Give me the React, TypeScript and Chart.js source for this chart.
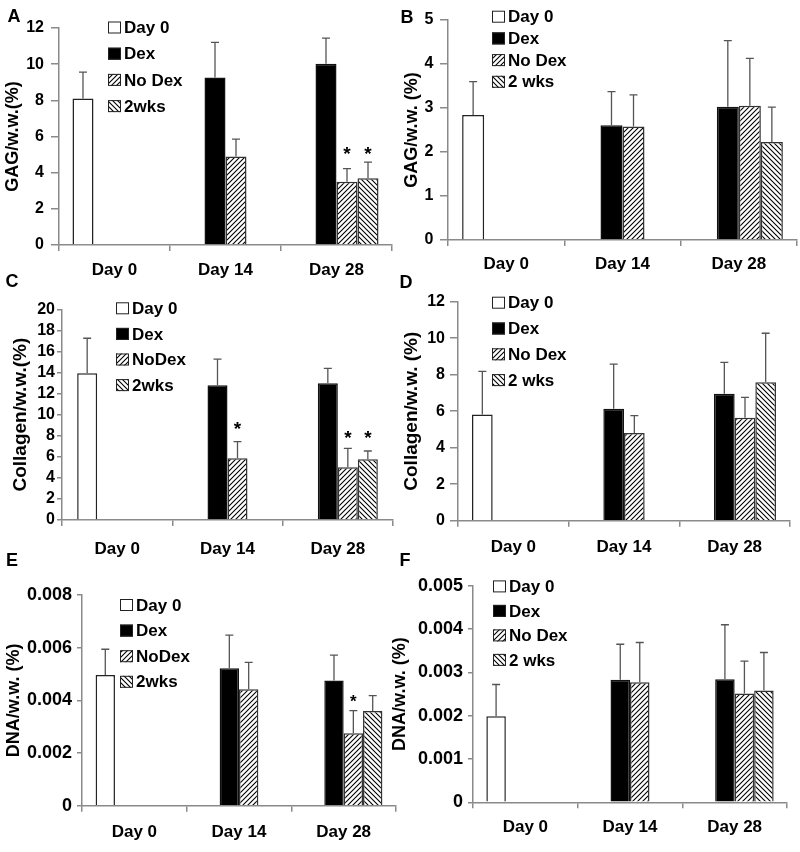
import React, { useEffect, useRef } from 'react';
import { Chart, registerables } from 'chart.js';

Chart.register(...registerables);

const FAMILY = '"Liberation Sans", Arial, Helvetica, sans-serif';
const AXIS_GRAY = '#8a8a8a';

const categories = ['Day 0', 'Day 14', 'Day 28'];

// ---------- Panel A: GAG (Dex) ----------
const aLegend = ['Day 0', 'Dex', 'No Dex', '2wks'];
const aDay0 = [8.1, null, null];
const aDex = [null, 9.26, 10.02];
const aNoDex = [null, 4.89, 3.5];
const a2wks = [null, null, 3.69];
const aDay0Err = [1.46, null, null];
const aDexErr = [null, 1.94, 1.42];
const aNoDexErr = [null, 0.96, 0.72];
const a2wksErr = [null, null, 0.89];
const aTicks = [0, 2, 4, 6, 8, 10, 12];
const aStars = [[2, 2, 5.3], [3, 2, 5.3]];

// ---------- Panel B: GAG ----------
const bLegend = ['Day 0', 'Dex', 'No Dex', '2 wks'];
const bDay0 = [2.84, null, null];
const bDex = [null, 2.61, 3.03];
const bNoDex = [null, 2.58, 3.05];
const b2wks = [null, null, 2.23];
const bDay0Err = [0.76, null, null];
const bDexErr = [null, 0.76, 1.5];
const bNoDexErr = [null, 0.72, 1.08];
const b2wksErr = [null, null, 0.79];
const bTicks = [0, 1, 2, 3, 4, 5];
const bStars: number[][] = [];

// ---------- Panel C: Collagen (Dex) ----------
const cLegend = ['Day 0', 'Dex', 'NoDex', '2wks'];
const cDay0 = [13.92, null, null];
const cDex = [null, 12.8, 12.97];
const cNoDex = [null, 5.85, 5.0];
const c2wks = [null, null, 5.76];
const cDay0Err = [3.33, null, null];
const cDexErr = [null, 2.48, 1.43];
const cNoDexErr = [null, 1.59, 1.8];
const c2wksErr = [null, null, 0.79];
const cTicks = [0, 2, 4, 6, 8, 10, 12, 14, 16, 18, 20];
const cStars = [[2, 1, 9.1], [2, 2, 8.2], [3, 2, 8.2]];

// ---------- Panel D: Collagen ----------
const dLegend = ['Day 0', 'Dex', 'No Dex', '2 wks'];
const dDay0 = [5.82, null, null];
const dDex = [null, 6.13, 6.95];
const dNoDex = [null, 4.8, 5.64];
const d2wks = [null, null, 7.58];
const dDay0Err = [2.36, null, null];
const dDexErr = [null, 2.45, 1.72];
const dNoDexErr = [null, 0.96, 1.12];
const d2wksErr = [null, null, 2.69];
const dTicks = [0, 2, 4, 6, 8, 10, 12];
const dStars: number[][] = [];

// ---------- Panel E: DNA (Dex) ----------
const eLegend = ['Day 0', 'Dex', 'NoDex', '2wks'];
const eDay0 = [0.00496, null, null];
const eDex = [null, 0.00522, 0.00475];
const eNoDex = [null, 0.00442, 0.00275];
const e2wks = [null, null, 0.0036];
const eDay0Err = [0.00098, null, null];
const eDexErr = [null, 0.00126, 0.00097];
const eNoDexErr = [null, 0.00102, 0.00086];
const e2wksErr = [null, null, 0.00058];
const eTicks = [0, 0.002, 0.004, 0.006, 0.008];
const eStars = [[2, 2, 0.00411]];

// ---------- Panel F: DNA ----------
const fLegend = ['Day 0', 'Dex', 'No Dex', '2 wks'];
const fDay0 = [0.00199, null, null];
const fDex = [null, 0.00283, 0.00284];
const fNoDex = [null, 0.00277, 0.00251];
const f2wks = [null, null, 0.00258];
const fDay0Err = [0.00073, null, null];
const fDexErr = [null, 0.00082, 0.00126];
const fNoDexErr = [null, 0.00092, 0.00075];
const f2wksErr = [null, null, 0.00088];
const fTicks = [0, 0.001, 0.002, 0.003, 0.004, 0.005];
const fStars: number[][] = [];

type Panel = {
  letter: string; lx: number; ly: number;
  cx: number; cy: number; cw: number; ch: number;
  L: number; T: number; R: number; B: number;
  ytitle: string; titleFont: number; ticks: number[]; decimals: number; tickFont: number;
  ytl: number; ypad: number; xpad: number; catPct: number;
  legend: string[]; series: (number | null)[][]; errors: (number | null)[][];
  stars: number[][]; starFont: number;
  lg: { dx: number; dy: number; gap: number };
};

const panels: Panel[] = [
  {
    letter: 'A', lx: 14, ly: 16, cx: 2, cy: 0, cw: 398, ch: 286, L: 59, T: 28, R: 392, B: 245,
    ytitle: 'GAG/w.w.(%)', titleFont: 18, ticks: aTicks, decimals: 0, tickFont: 16, ytl: 8, ypad: 7, xpad: 8.8, catPct: 0.757,
    legend: aLegend, series: [aDay0, aDex, aNoDex, a2wks], errors: [aDay0Err, aDexErr, aNoDexErr, a2wksErr],
    stars: aStars, starFont: 19, lg: { dx: 49, dy: -0.5, gap: 26.2 },
  },
  {
    letter: 'B', lx: 407, ly: 17, cx: 401, cy: 0, cw: 399, ch: 286, L: 448, T: 20, R: 797, B: 240,
    ytitle: 'GAG/w.w. (%)', titleFont: 18, ticks: bTicks, decimals: 0, tickFont: 16, ytl: 8, ypad: 6.5, xpad: 8.3, catPct: 0.757,
    legend: bLegend, series: [bDay0, bDex, bNoDex, b2wks], errors: [bDay0Err, bDexErr, bNoDexErr, b2wksErr],
    stars: bStars, starFont: 19, lg: { dx: 44, dy: -3.3, gap: 21.7 },
  },
  {
    letter: 'C', lx: 12, ly: 281, cx: 9, cy: 286, cw: 391, ch: 284, L: 62, T: 309.3, R: 393, B: 520,
    ytitle: 'Collagen/w.w.(%)', titleFont: 19, ticks: cTicks, decimals: 0, tickFont: 16, ytl: 5, ypad: 2, xpad: 12.8, catPct: 0.725,
    legend: cLegend, series: [cDay0, cDex, cNoDex, c2wks], errors: [cDay0Err, cDexErr, cNoDexErr, c2wksErr],
    stars: cStars, starFont: 19, lg: { dx: 54, dy: -1, gap: 25.6 },
  },
  {
    letter: 'D', lx: 406, ly: 282, cx: 400, cy: 286, cw: 400, ch: 284, L: 458, T: 301.7, R: 790, B: 520.7,
    ytitle: 'Collagen/w.w. (%)', titleFont: 19, ticks: dTicks, decimals: 0, tickFont: 16, ytl: 8, ypad: 5, xpad: 10.1, catPct: 0.747,
    legend: dLegend, series: [dDay0, dDex, dNoDex, d2wks], errors: [dDay0Err, dDexErr, dNoDexErr, d2wksErr],
    stars: dStars, starFont: 19, lg: { dx: 34, dy: 1, gap: 25.8 },
  },
  {
    letter: 'E', lx: 12, ly: 560, cx: 3, cy: 570, cw: 397, ch: 282, L: 82, T: 595, R: 396, B: 805.7,
    ytitle: 'DNA/w.w. (%)', titleFont: 18, ticks: eTicks, decimals: 3, tickFont: 18, ytl: 5, ypad: 5, xpad: 10.1, catPct: 0.74,
    legend: eLegend, series: [eDay0, eDex, eNoDex, e2wks], errors: [eDay0Err, eDexErr, eNoDexErr, e2wksErr],
    stars: eStars, starFont: 17, lg: { dx: 38, dy: 10, gap: 25.6 },
  },
  {
    letter: 'F', lx: 405, ly: 560, cx: 389, cy: 570, cw: 411, ch: 282, L: 473, T: 582.7, R: 787, B: 802.3,
    ytitle: 'DNA/w.w. (%)', titleFont: 18, ticks: fTicks, decimals: 3, tickFont: 18, ytl: 5, ypad: 5, xpad: 8.5, catPct: 0.745,
    legend: fLegend, series: [fDay0, fDex, fNoDex, f2wks], errors: [fDay0Err, fDexErr, fNoDexErr, f2wksErr],
    stars: fStars, starFont: 19, lg: { dx: 20, dy: 0.6, gap: 24.5 },
  },
];

function makeHatch(forward: boolean): CanvasPattern | string {
  const s = 5;
  const c = document.createElement('canvas');
  c.width = s;
  c.height = s;
  const g = c.getContext('2d');
  if (!g) return '#888';
  g.fillStyle = '#ffffff';
  g.fillRect(0, 0, s, s);
  g.strokeStyle = '#000000';
  g.lineWidth = 1.1;
  g.beginPath();
  if (forward) {
    g.moveTo(0, s); g.lineTo(s, 0);
    g.moveTo(-1, 1); g.lineTo(1, -1);
    g.moveTo(s - 1, s + 1); g.lineTo(s + 1, s - 1);
  } else {
    g.moveTo(0, 0); g.lineTo(s, s);
    g.moveTo(-1, s - 1); g.lineTo(1, s + 1);
    g.moveTo(s - 1, -1); g.lineTo(s + 1, 1);
  }
  g.stroke();
  return g.createPattern(c, 'repeat') || '#888';
}

const errorBarPlugin = {
  id: 'errorBars',
  afterDatasetsDraw(chart: any, _args: any, opts: any) {
    const { ctx } = chart;
    const ys = chart.scales.y;
    ctx.save();
    ctx.strokeStyle = opts.color;
    ctx.lineWidth = opts.width;
    chart.data.datasets.forEach((ds: any, i: number) => {
      const meta = chart.getDatasetMeta(i);
      const errs = opts.errors[i] || [];
      meta.data.forEach((bar: any, j: number) => {
        const v = ds.data[j];
        const e = errs[j];
        if (v == null || e == null) return;
        const top = ys.getPixelForValue(v + e);
        const x = bar.x;
        ctx.beginPath();
        ctx.moveTo(x, bar.y);
        ctx.lineTo(x, top);
        ctx.moveTo(x - opts.cap, top);
        ctx.lineTo(x + opts.cap, top);
        ctx.stroke();
      });
    });
    // significance asterisks
    ctx.fillStyle = '#000';
    ctx.textAlign = 'center';
    ctx.textBaseline = 'alphabetic';
    ctx.font = `bold ${opts.starFont}px ${FAMILY}`;
    (opts.stars || []).forEach((s: number[]) => {
      const meta = chart.getDatasetMeta(s[0]);
      const bar = meta.data[s[1]];
      if (!bar) return;
      const cy = ys.getPixelForValue(s[2]);
      ctx.fillText('*', bar.x, cy + 0.57 * opts.starFont);
    });
    ctx.restore();
  },
};

const boxLegendPlugin = {
  id: 'boxLegend',
  afterDraw(chart: any, _args: any, opts: any) {
    const { ctx, chartArea } = chart;
    ctx.save();
    ctx.font = `bold ${opts.fontSize}px ${FAMILY}`;
    ctx.textAlign = 'left';
    ctx.textBaseline = 'middle';
    chart.data.datasets.forEach((ds: any, i: number) => {
      const cy = chartArea.top + opts.dy + i * opts.gap;
      const x = chartArea.left + opts.dx;
      const bw = 13;
      const bh = 12;
      ctx.fillStyle = ds.backgroundColor;
      ctx.fillRect(x, cy - bh / 2, bw, bh);
      ctx.strokeStyle = '#222';
      ctx.lineWidth = 1;
      ctx.strokeRect(x + 0.5, cy - bh / 2 + 0.5, bw - 1, bh - 1);
      ctx.fillStyle = '#000';
      ctx.fillText(ds.label, x + bw + 3, cy + 1);
    });
    ctx.restore();
  },
};

function PanelChart({ p }: { p: Panel }) {
  const ref = useRef<HTMLCanvasElement | null>(null);
  useEffect(() => {
    if (!ref.current) return;
    const fills = ['#ffffff', '#000000', makeHatch(true), makeHatch(false)];
    const borders = ['#222222', '#111111', '#333333', '#333333'];
    const yWidth = p.L - p.cx;
    const xHeight = 40;
    const chart = new Chart(ref.current, {
      type: 'bar',
      data: {
        labels: categories,
        datasets: p.series.map((vals, i) => ({
          label: p.legend[i],
          data: vals,
          backgroundColor: fills[i],
          borderColor: borders[i],
          borderWidth: 1.5,
          categoryPercentage: p.catPct,
          barPercentage: 1.0,
        })),
      } as any,
      options: {
        responsive: false,
        animation: false,
        devicePixelRatio: 1,
        layout: {
          padding: {
            left: 0,
            top: p.T - p.cy,
            right: p.cx + p.cw - p.R,
            bottom: p.cy + p.ch - p.B - xHeight,
          },
        },
        plugins: {
          legend: { display: false },
          tooltip: { enabled: false },
          title: { display: false },
          errorBars: {
            errors: p.errors,
            color: '#555555',
            width: 1.3,
            cap: 4,
            stars: p.stars,
            starFont: p.starFont,
          },
          boxLegend: { dx: p.lg.dx, dy: p.lg.dy, gap: p.lg.gap, fontSize: 17 },
        } as any,
        scales: {
          x: {
            type: 'category',
            offset: true,
            grid: {
              display: true,
              drawOnChartArea: false,
              drawTicks: true,
              tickLength: 6,
              color: AXIS_GRAY,
              lineWidth: 1.5,
              offset: true,
            },
            border: { display: true, color: AXIS_GRAY, width: 1.5 },
            ticks: {
              color: '#000',
              font: { family: FAMILY, size: 17, weight: 'bold' },
              padding: p.xpad,
              maxRotation: 0,
              autoSkip: false,
            },
            afterFit: (s: any) => { s.height = xHeight; },
          },
          y: {
            type: 'linear',
            min: p.ticks[0],
            max: p.ticks[p.ticks.length - 1],
            grid: {
              display: true,
              drawOnChartArea: false,
              drawTicks: true,
              tickLength: p.ytl,
              color: AXIS_GRAY,
              lineWidth: 1.5,
            },
            border: { display: true, color: AXIS_GRAY, width: 1.5 },
            ticks: {
              color: '#000',
              autoSkip: false,
              font: { family: FAMILY, size: p.tickFont, weight: 'bold' },
              padding: p.ypad,
              callback: (v: any) => (Number(v) === 0 ? '0' : Number(v).toFixed(p.decimals)),
            },
            afterBuildTicks: (s: any) => { s.ticks = p.ticks.map((v) => ({ value: v })); },
            afterFit: (s: any) => { s.width = yWidth; },
            title: {
              display: true,
              text: p.ytitle,
              color: '#000',
              font: { family: FAMILY, size: p.titleFont, weight: 'bold' },
              padding: { top: 0, bottom: 0 },
            },
          },
        } as any,
      },
      plugins: [errorBarPlugin, boxLegendPlugin] as any,
    });
    return () => chart.destroy();
  }, [p]);
  return (
    <canvas
      ref={ref}
      width={p.cw}
      height={p.ch}
      style={{ position: 'absolute', left: p.cx, top: p.cy, width: p.cw, height: p.ch }}
    />
  );
}

export default function App() {
  return (
    <div
      style={{
        position: 'absolute',
        left: 0,
        top: 0,
        width: 800,
        height: 852,
        background: '#ffffff',
        overflow: 'hidden',
        fontFamily: FAMILY,
      }}
    >
      {panels.map((p) => (
        <PanelChart key={p.letter} p={p} />
      ))}
      {panels.map((p) => (
        <div
          key={'l' + p.letter}
          style={{
            position: 'absolute',
            left: p.lx,
            top: p.ly,
            transform: 'translate(-50%, -50%)',
            fontSize: 18,
            fontWeight: 'bold',
            lineHeight: '18px',
            color: '#000',
          }}
        >
          {p.letter}
        </div>
      ))}
    </div>
  );
}
